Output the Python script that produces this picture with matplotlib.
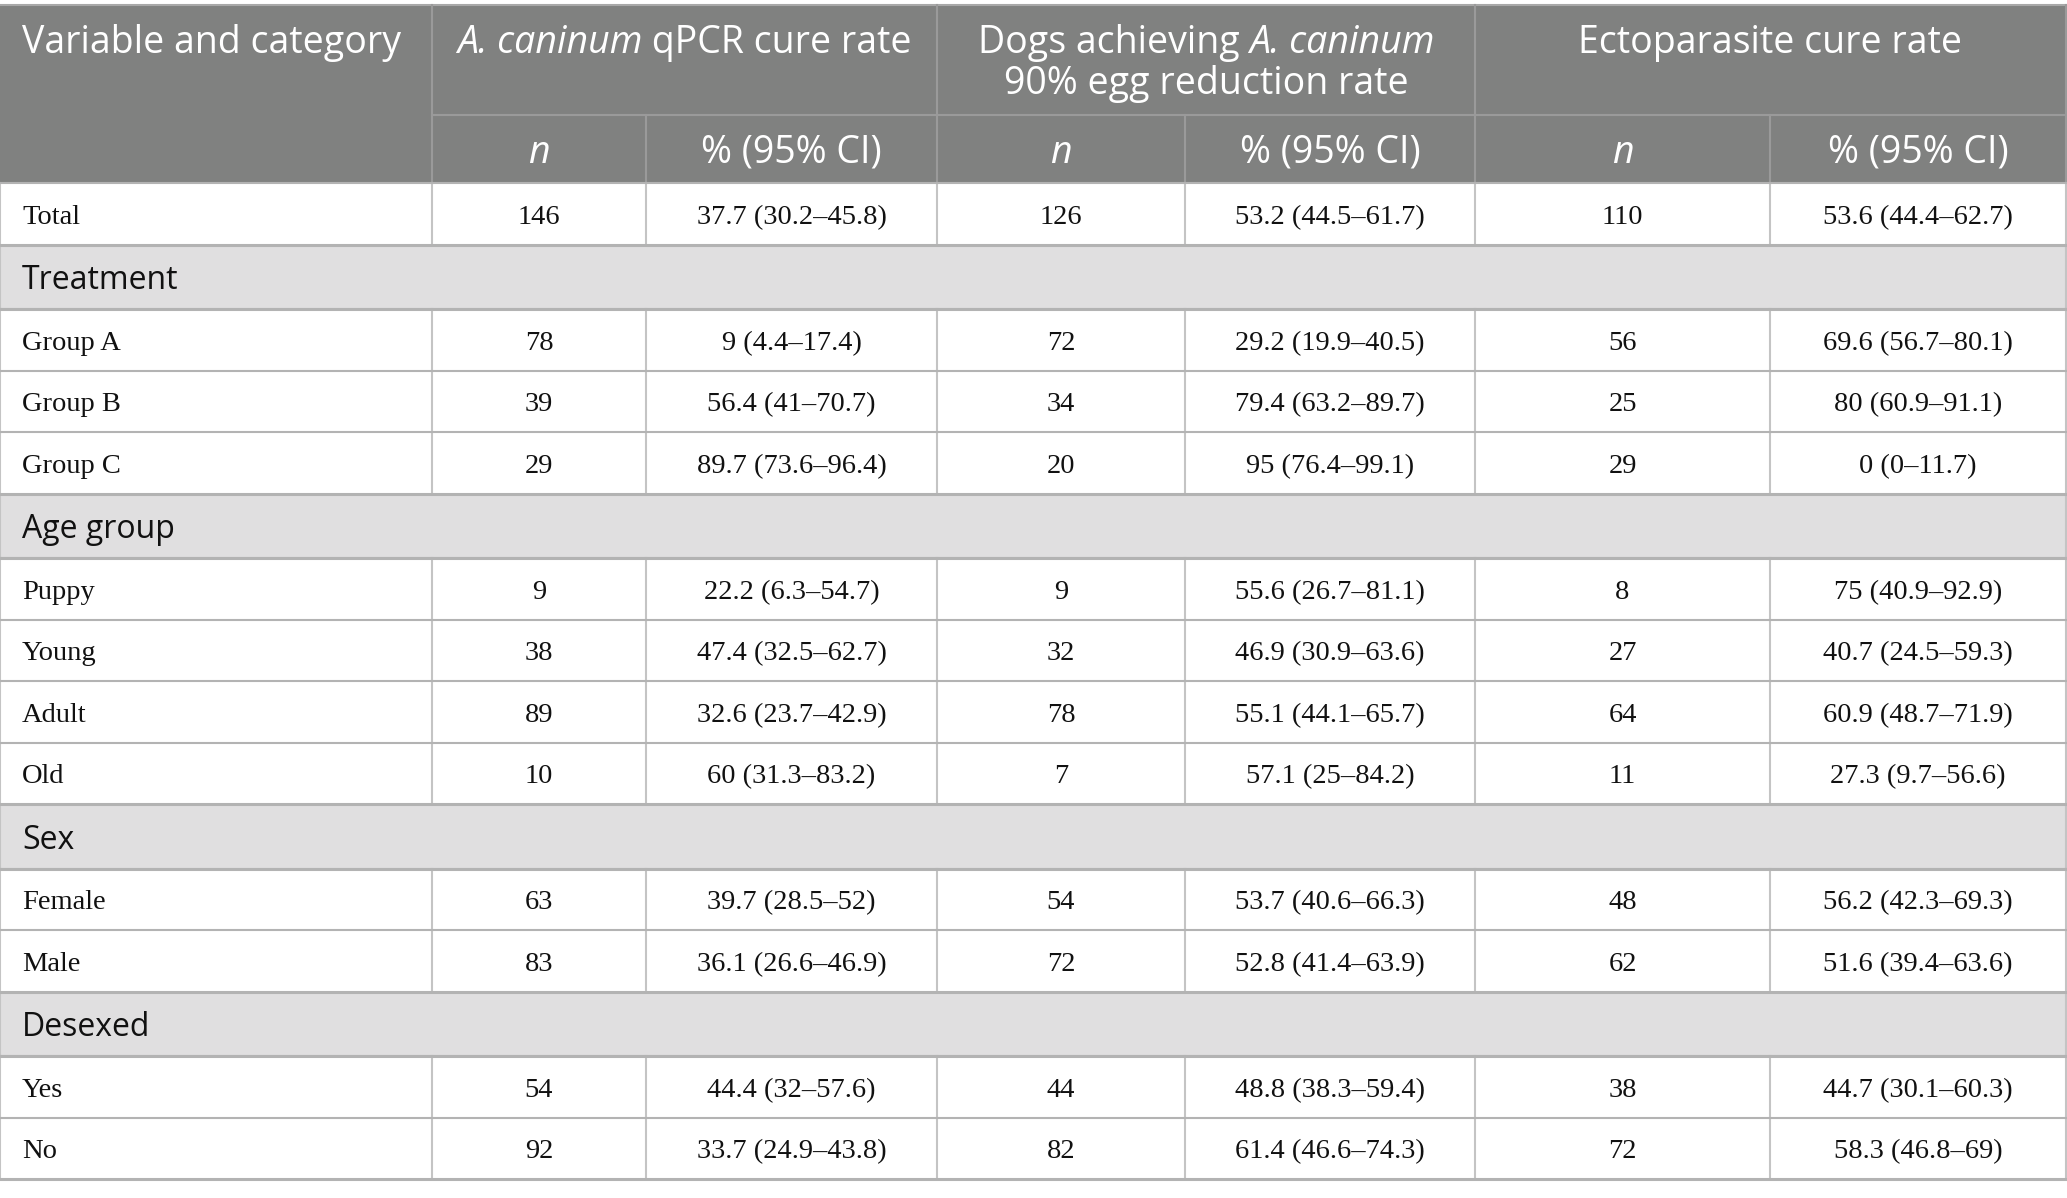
import matplotlib
matplotlib.use("Agg")
import matplotlib.pyplot as plt
from matplotlib.patches import Rectangle

# ---------------- data ----------------
sections = ["Treatment", "Age group", "Sex", "Desexed"]
section_rows = [
    ["Group A", "Group B", "Group C"],
    ["Puppy", "Young", "Adult", "Old"],
    ["Female", "Male"],
    ["Yes", "No"],
]
total_label = "Total"

qpcr_n = [146, 78, 39, 29, 9, 38, 89, 10, 63, 83, 54, 92]
qpcr_pct = ["37.7 (30.2\u201345.8)", "9 (4.4\u201317.4)", "56.4 (41\u201370.7)", "89.7 (73.6\u201396.4)",
            "22.2 (6.3\u201354.7)", "47.4 (32.5\u201362.7)", "32.6 (23.7\u201342.9)", "60 (31.3\u201383.2)",
            "39.7 (28.5\u201352)", "36.1 (26.6\u201346.9)", "44.4 (32\u201357.6)", "33.7 (24.9\u201343.8)"]
egg_n = [126, 72, 34, 20, 9, 32, 78, 7, 54, 72, 44, 82]
egg_pct = ["53.2 (44.5\u201361.7)", "29.2 (19.9\u201340.5)", "79.4 (63.2\u201389.7)", "95 (76.4\u201399.1)",
           "55.6 (26.7\u201381.1)", "46.9 (30.9\u201363.6)", "55.1 (44.1\u201365.7)", "57.1 (25\u201384.2)",
           "53.7 (40.6\u201366.3)", "52.8 (41.4\u201363.9)", "48.8 (38.3\u201359.4)", "61.4 (46.6\u201374.3)"]
ecto_n = [110, 56, 25, 29, 8, 27, 64, 11, 48, 62, 38, 72]
ecto_pct = ["53.6 (44.4\u201362.7)", "69.6 (56.7\u201380.1)", "80 (60.9\u201391.1)", "0 (0\u201311.7)",
            "75 (40.9\u201392.9)", "40.7 (24.5\u201359.3)", "60.9 (48.7\u201371.9)", "27.3 (9.7\u201356.6)",
            "56.2 (42.3\u201369.3)", "51.6 (39.4\u201363.6)", "44.7 (30.1\u201360.3)", "58.3 (46.8\u201369)"]

header_first = "Variable and category"
# each header line is a list of (text, italic?) runs
group_headers = [
    [[("A. caninum", True), (" qPCR cure rate", False)]],
    [[("Dogs achieving ", False), ("A. caninum", True)], [("90% egg reduction rate", False)]],
    [[("Ectoparasite cure rate", False)]],
]
sub_headers = ["n", "% (95% CI)"]

# ---------------- layout ----------------
W, H = 2067, 1198
fig = plt.figure(figsize=(W / 100, H / 100), dpi=100)
ax = fig.add_axes([0, 0, 1, 1])
ax.set_xlim(0, W)
ax.set_ylim(H, 0)
ax.axis("off")
renderer = fig.canvas.get_renderer()

col_x = [0, 432, 646, 937, 1185, 1475, 1770, 2066]
top = 5
h1_bot = 115
h2_bot = 183
data_h = 61.5
sec_h = 64.5

HEAD_BG = "#808180"
SEC_BG = "#e0dfe0"
HLINE = "#b3b3b3"
VLINE = "#c4c4c4"
SANS = "Open Sans"
SERIF = "Liberation Serif"
HFS = 27
SFS = 23
BFS = 20.5


def rich_text(cx, y, runs, **kw):
    """Draw runs of text (some italic) centred on cx, on baseline y."""
    arts = []
    widths = []
    for txt, it in runs:
        t = ax.text(0, y, txt, style="italic" if it else "normal", va="baseline", ha="left", **kw)
        t.set_text(txt.replace(" ", "\u00a0"))
        widths.append(t.get_window_extent(renderer).width)
        arts.append(t)
    total = sum(widths)
    x = cx - total / 2
    for t, w in zip(arts, widths):
        t.set_x(x)
        x += w


# header background
ax.add_patch(Rectangle((0, top), col_x[-1], h2_bot - top, facecolor=HEAD_BG, edgecolor="none", zorder=0))

# build row list
rows = [("data", total_label, 0)]
idx = 1
for s, items in zip(sections, section_rows):
    rows.append(("sec", s, None))
    for it in items:
        rows.append(("data", it, idx))
        idx += 1

y = h2_bot
row_bounds = []
for kind, label, i in rows:
    hh = data_h if kind == "data" else sec_h
    row_bounds.append((kind, label, i, y, y + hh))
    y += hh
bottom = y

# header lines
hdr_line = "#9a9a9a"
ax.plot([0, col_x[-1]], [top, top], color="#a8a8a8", lw=1.5, zorder=2)
ax.plot([col_x[1], col_x[-1]], [h1_bot, h1_bot], color=hdr_line, lw=1.5, zorder=2)
for xv in [col_x[1], col_x[3], col_x[5]]:
    ax.plot([xv, xv], [top, h2_bot], color=hdr_line, lw=1.5, zorder=2)
for xv in [col_x[2], col_x[4], col_x[6]]:
    ax.plot([xv, xv], [h1_bot, h2_bot], color=hdr_line, lw=1.5, zorder=2)
ax.plot([col_x[-1], col_x[-1]], [top, h2_bot], color=hdr_line, lw=1.5, zorder=2)

# header texts
ax.text(22, 53, header_first, fontsize=HFS, family=SANS, color="white", va="baseline", ha="left")
for g, lines in enumerate(group_headers):
    cx = (col_x[1 + 2 * g] + col_x[3 + 2 * g]) / 2
    for k, runs in enumerate(lines):
        rich_text(cx, 53 + 41 * k, runs, fontsize=HFS, family=SANS, color="white")
    for j, sh in enumerate(sub_headers):
        cx2 = (col_x[1 + 2 * g + j] + col_x[2 + 2 * g + j]) / 2
        ax.text(cx2, 163, sh, fontsize=HFS, family=SANS, color="white", va="baseline", ha="center",
                style="italic" if sh == "n" else "normal")

# body
cols_vals = [qpcr_n, qpcr_pct, egg_n, egg_pct, ecto_n, ecto_pct]
for kind, label, i, y0, y1 in row_bounds:
    cy = (y0 + y1) / 2
    if kind == "sec":
        ax.add_patch(Rectangle((0, y0), col_x[-1], y1 - y0, facecolor=SEC_BG, edgecolor="none", zorder=0))
        ax.text(22, cy + 12.5, label, fontsize=SFS, family=SANS, color="#111111", va="baseline", ha="left")
        ax.plot([0, 0], [y0, y1], color=VLINE, lw=1.5, zorder=2)
        ax.plot([col_x[-1], col_x[-1]], [y0, y1], color=VLINE, lw=1.5, zorder=2)
    else:
        ax.text(22, cy + 10, label, fontsize=BFS, family=SERIF, color="#111111", va="baseline", ha="left")
        for c, vals in enumerate(cols_vals):
            cx = (col_x[1 + c] + col_x[2 + c]) / 2
            ax.text(cx, cy + 10, str(vals[i]), fontsize=BFS, family=SERIF, color="#111111",
                    va="baseline", ha="center")
        for xv in col_x:
            ax.plot([xv, xv], [y0, y1], color=VLINE, lw=1.5, zorder=2)
    lw_top = 2.2 if kind == "sec" else 1.5
    ax.plot([0, col_x[-1]], [y0, y0], color=HLINE, lw=lw_top, zorder=3)
    if kind == "sec":
        ax.plot([0, col_x[-1]], [y1, y1], color=HLINE, lw=2.2, zorder=3)
ax.plot([0, col_x[-1]], [bottom, bottom], color=HLINE, lw=2.2, zorder=3)

fig.savefig("out.png", dpi=100, facecolor="white")
